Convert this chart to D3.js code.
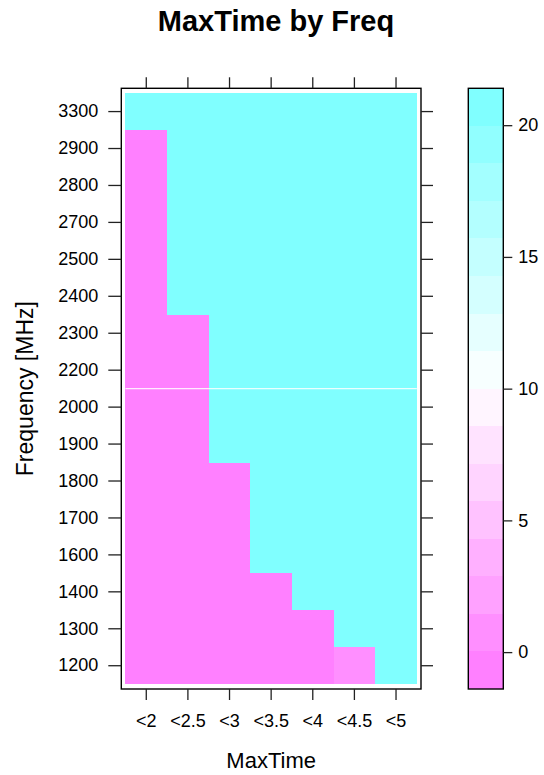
<!DOCTYPE html>
<html>
<head>
<meta charset="utf-8">
<script src="https://cdn.jsdelivr.net/npm/d3@7"></script>
<style>
  html, body { margin: 0; padding: 0; background: #fff; }
  svg text { font-family: Arial, "Liberation Sans", Helvetica, sans-serif; fill: #000; }
</style>
</head>
<body>
<svg id="chart" width="544" height="775"></svg>
<script>
// MaxTime thresholds (columns) and frequencies in MHz (rows, bottom to top)
const maxTimes = ["<2", "<2.5", "<3", "<3.5", "<4", "<4.5", "<5"];
const freqs = ["1200", "1300", "1400", "1600", "1700", "1800", "1900", "2000",
               "2200", "2300", "2400", "2500", "2700", "2800", "2900", "3300"];

// One value per frequency row, listed per MaxTime column (bottom row first)
const colLt2   = [0, 0, 0, 0, 0, 0, 0, 0, 0, 0, 0, 0, 0, 0, 0, 20];
const colLt2_5 = [0, 0, 0, 0, 0, 0, 0, 0, 0, 0, 20, 20, 20, 20, 20, 20];
const colLt3   = [0, 0, 0, 0, 0, 0, 20, 20, 20, 20, 20, 20, 20, 20, 20, 20];
const colLt3_5 = [0, 0, 0, 20, 20, 20, 20, 20, 20, 20, 20, 20, 20, 20, 20, 20];
const colLt4   = [0, 0, 20, 20, 20, 20, 20, 20, 20, 20, 20, 20, 20, 20, 20, 20];
const colLt4_5 = [1, 20, 20, 20, 20, 20, 20, 20, 20, 20, 20, 20, 20, 20, 20, 20];
const colLt5   = [20, 20, 20, 20, 20, 20, 20, 20, 20, 20, 20, 20, 20, 20, 20, 20];
const columns = [colLt2, colLt2_5, colLt3, colLt3_5, colLt4, colLt4_5, colLt5];

const keyTicks = [0, 5, 10, 15, 20];

const cells = [];
columns.forEach((col, i) => col.forEach((v, j) => cells.push({ t: maxTimes[i], f: freqs[j], v })));

// Level breaks: range extended by 7% on each side, split into 16 equal intervals
const zmin = d3.min(cells, d => d.v), zmax = d3.max(cells, d => d.v);
const ext = 0.07 * (zmax - zmin);
const nLevels = 16;
const breaks = d3.range(nLevels + 1).map(k => (zmin - ext) + k * ((zmax - zmin + 2 * ext) / nLevels));

// Pink -> white -> cyan ramp of 100 colours, sampled at 16 evenly spaced entries
function hsvColor(h, s, v) {
  const i = Math.floor(h * 6), f = h * 6 - i;
  const p = v * (1 - s), q = v * (1 - f * s), t = v * (1 - (1 - f) * s);
  const m = [[v, t, p], [q, v, p], [p, v, t], [p, q, v], [t, p, v], [v, p, q]][i % 6];
  return d3.rgb(m[0] * 255, m[1] * 255, m[2] * 255).formatHex();
}
const ramp = [];
for (let k = 0; k < 50; k++) ramp.push(hsvColor(10 / 12, 0.5 - k * 0.01, 1));
for (let k = 1; k <= 50; k++) ramp.push(hsvColor(6 / 12, k * 0.01, 1));
const levelCols = d3.range(nLevels).map(k => ramp[Math.floor(k * (ramp.length - 1) / (nLevels - 1))]);
const colorOf = d3.scaleThreshold().domain(breaks.slice(1, -1)).range(levelCols);

const svg = d3.select("#chart");
const P = { left: 121.3, right: 421, top: 88.3, bottom: 689 };

const x = d3.scaleBand().domain(maxTimes).range([P.left, P.right]).paddingInner(0).paddingOuter(0.1);
const y = d3.scaleBand().domain(freqs).range([P.bottom, P.top]).paddingInner(0).paddingOuter(0.13);

// Heat cells
svg.append("g").selectAll("rect").data(cells).join("rect")
  .attr("x", d => x(d.t))
  .attr("y", d => y(d.f))
  .attr("width", x.bandwidth())
  .attr("height", y.bandwidth())
  .attr("fill", d => colorOf(d.v))
  .attr("shape-rendering", "crispEdges");

// Thin light seam between the 2000 and 2200 rows
const seamY = y("2200") + y.bandwidth();
svg.append("line")
  .attr("x1", x(maxTimes[0])).attr("x2", x(maxTimes[maxTimes.length - 1]) + x.bandwidth())
  .attr("y1", seamY).attr("y2", seamY)
  .attr("stroke", "#fff").attr("stroke-width", 1.2).attr("opacity", 0.85);

// Panel box
svg.append("rect")
  .attr("x", P.left).attr("y", P.top)
  .attr("width", P.right - P.left).attr("height", P.bottom - P.top)
  .attr("fill", "none").attr("stroke", "#000").attr("stroke-width", 1.4);

const tickFont = 18;
function styleAxis(g) {
  g.select(".domain").remove();
  g.selectAll(".tick line").attr("stroke", "#222").attr("stroke-width", 1.3);
  g.selectAll(".tick text").attr("font-size", tickFont).attr("fill", "#000");
}

svg.append("g").attr("transform", `translate(${P.left},0)`)
  .call(d3.axisLeft(y).tickSize(13).tickPadding(10)).call(styleAxis);
svg.append("g").attr("transform", `translate(${P.right},0)`)
  .call(d3.axisRight(y).tickSize(12).tickFormat("")).call(styleAxis);
svg.append("g").attr("transform", `translate(0,${P.top})`)
  .call(d3.axisTop(x).tickSize(11).tickFormat("")).call(styleAxis);
svg.append("g").attr("transform", `translate(0,${P.bottom})`)
  .call(d3.axisBottom(x).tickSize(11).tickPadding(14)).call(styleAxis);

// Colour key
const K = { left: 468.3, right: 503.3 };
const zk = d3.scaleLinear().domain([breaks[0], breaks[nLevels]]).range([P.bottom, P.top]);
svg.append("g").selectAll("rect").data(d3.range(nLevels)).join("rect")
  .attr("x", K.left).attr("width", K.right - K.left)
  .attr("y", k => zk(breaks[k + 1]))
  .attr("height", k => zk(breaks[k]) - zk(breaks[k + 1]))
  .attr("fill", k => levelCols[k])
  .attr("shape-rendering", "crispEdges");
svg.append("rect")
  .attr("x", K.left).attr("y", P.top)
  .attr("width", K.right - K.left).attr("height", P.bottom - P.top)
  .attr("fill", "none").attr("stroke", "#000").attr("stroke-width", 1.4);
svg.append("g").attr("transform", `translate(${K.right},0)`)
  .call(d3.axisRight(zk).tickValues(keyTicks).tickSize(9).tickPadding(6).tickFormat(d3.format("d")))
  .call(styleAxis);

// Titles
svg.append("text").attr("x", 276).attr("y", 31)
  .attr("text-anchor", "middle").attr("font-size", 29).attr("font-weight", "bold")
  .text("MaxTime by Freq");
svg.append("text").attr("x", (P.left + P.right) / 2).attr("y", 768)
  .attr("text-anchor", "middle").attr("font-size", 22)
  .text("MaxTime");
svg.append("text")
  .attr("transform", `translate(33,${(P.top + P.bottom) / 2}) rotate(-90)`)
  .attr("text-anchor", "middle").attr("font-size", 23)
  .text("Frequency [MHz]");
</script>
</body>
</html>
